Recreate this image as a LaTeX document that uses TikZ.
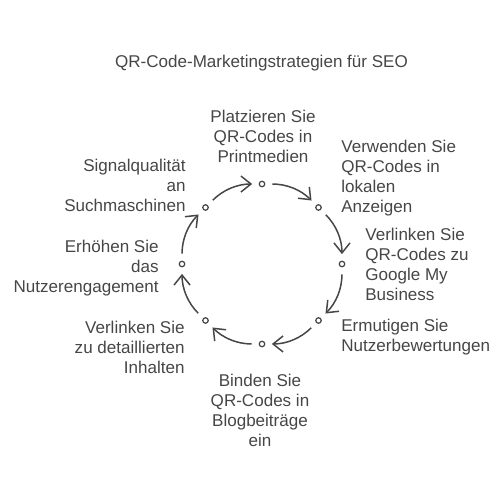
\documentclass[tikz,border=0pt]{standalone}
\usepackage{fontspec}
\setmainfont{Liberation Sans}
\usetikzlibrary{arrows.meta}
\definecolor{ink}{HTML}{464646}

\begin{document}
\begin{tikzpicture}[
    dot/.style={shape=circle, draw=ink, fill=white, line width=0.7pt, inner sep=0pt, minimum size=0.11cm},
    lbl/.style={inner sep=0pt, text=ink, font=\fontsize{9.7pt}{11.4pt}\selectfont},
    arr/.style={draw=ink, line width=0.85pt, -{Straight Barb[length=0.2cm,width=0.32cm]}, shorten <=0.14cm, shorten >=0.13cm}]
    \useasboundingbox (0,0) rectangle (10,10);
    \node[lbl, anchor=base] (title) at (5.23,8.64) {QR-Code-Marketingstrategien für SEO};
    \node[dot] (print) at (5.24,6.32) {};
    \node[dot] (local) at (6.37,5.85) {};
    \node[dot] (google) at (6.84,4.72) {};
    \node[dot] (review) at (6.37,3.59) {};
    \node[dot] (blog) at (5.24,3.12) {};
    \node[dot] (detail) at (4.11,3.59) {};
    \node[dot] (engage) at (3.64,4.72) {};
    \node[dot] (signal) at (4.11,5.85) {};
    \node[lbl, anchor=north, align=center] (Lprint) at (5.26,7.80) {Platzieren Sie\\QR-Codes in\\Printmedien};
    \node[lbl, anchor=north west, align=left] (Llocal) at (6.82,7.20) {Verwenden Sie\\QR-Codes in\\lokalen\\Anzeigen};
    \node[lbl, anchor=north west, align=left] (Lgoogle) at (7.30,5.44) {Verlinken Sie\\QR-Codes zu\\Google My\\Business};
    \node[lbl, anchor=north west, align=left] (Lreview) at (6.82,3.62) {Ermutigen Sie\\Nutzerbewertungen};
    \node[lbl, anchor=north, align=center] (Lblog) at (5.20,2.52) {Binden Sie\\QR-Codes in\\Blogbeiträge\\ein};
    \node[lbl, anchor=north east, align=right] (Ldetail) at (3.70,3.58) {Verlinken Sie\\zu detaillierten\\Inhalten};
    \node[lbl, anchor=north east, align=right] (Lengage) at (3.18,5.20) {Erhöhen Sie\\das\\Nutzerengagement};
    \node[lbl, anchor=north east, align=right] (Lsignal) at (3.72,6.82) {Signalqualität\\an\\Suchmaschinen};
    \draw[arr] (print) to[bend left=22.5] (local);
    \draw[arr] (local) to[bend left=22.5] (google);
    \draw[arr] (google) to[bend left=22.5] (review);
    \draw[arr] (review) to[bend left=22.5] (blog);
    \draw[arr] (blog) to[bend left=22.5] (detail);
    \draw[arr] (detail) to[bend left=22.5] (engage);
    \draw[arr] (engage) to[bend left=22.5] (signal);
    \draw[arr] (signal) to[bend left=22.5] (print);
\end{tikzpicture}
\end{document}
